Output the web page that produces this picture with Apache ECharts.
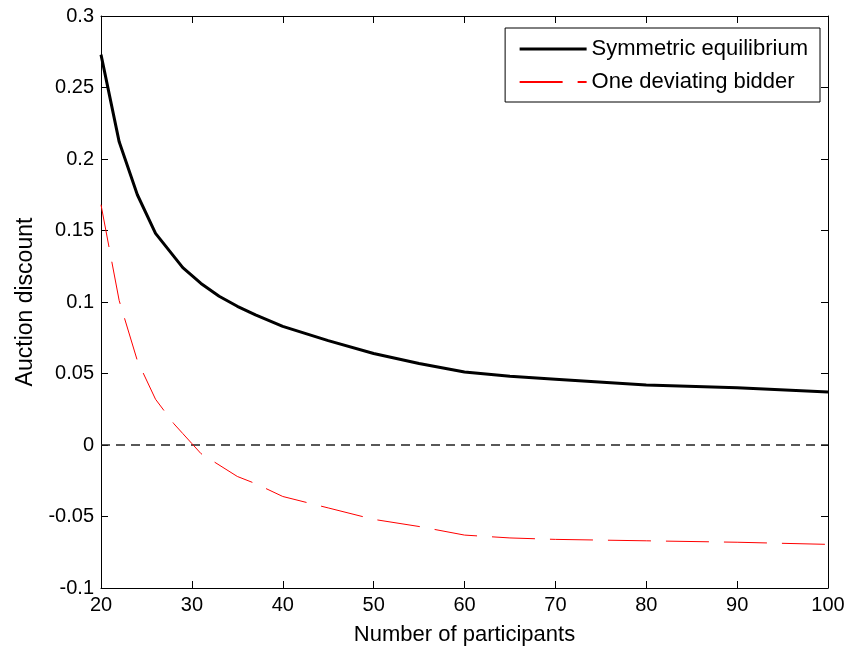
<!DOCTYPE html>
<html><head><meta charset="utf-8">
<script src="https://cdn.jsdelivr.net/npm/echarts@6/dist/echarts.min.js"></script>
<style>html,body{margin:0;padding:0;background:#fff}#c{width:849px;height:648px}</style>
</head><body><div id="c"></div>
<script>
const xSym = [20,22,24,26,29,31,33,35,37,40,45,50,55,60,65,70,80,90,100];
const symmetric = [0.273,0.212,0.175,0.148,0.124,0.113,0.104,0.097,0.091,0.083,0.073,0.064,0.057,0.051,0.048,0.046,0.042,0.040,0.037];
const xDev = [20,22,24,26,28,29,30,31,32,35,37,40,45,50,55,60,65,70,80,90,100];
const deviating = [0.168,0.101,0.059,0.032,0.015,0.008,0.001,-0.006,-0.010,-0.022,-0.027,-0.036,-0.044,-0.052,-0.057,-0.063,-0.065,-0.066,-0.067,-0.068,-0.0695];
const zeroLine = [[20,0],[100,0]];
const FONT = '"Liberation Sans",Arial,sans-serif';
const chart = echarts.init(document.getElementById('c'));
const fmtY = v => String(Math.round(v*1000)/1000);
chart.setOption({
  animation: false,
  backgroundColor: '#fff',
  grid: {left: 101, right: 21, top: 16, bottom: 60, containLabel: false, outerBoundsMode: 'none'},
  legend: {
    right: 29, top: 28, orient: 'vertical',
    data: [
      {name: 'Symmetric equilibrium', lineStyle: {width: 3, color: '#000'}},
      {name: 'One deviating bidder'}
    ],
    backgroundColor: '#fff', borderColor: '#000', borderWidth: 1, borderRadius: 0,
    padding: [10, 12, 9, 13], itemGap: 11, itemWidth: 67, itemHeight: 20,
    itemStyle: {opacity: 0},
    textStyle: {fontFamily: FONT, fontSize: 22, color: '#000'}
  },
  xAxis: [{
    type: 'value', min: 20, max: 100, interval: 10,
    name: 'Number of participants', nameLocation: 'middle', nameGap: 36,
    nameTextStyle: {fontFamily: FONT, fontSize: 22, color: '#000'},
    axisLine: {show: true, onZero: false, lineStyle: {color: '#000', width: 1}},
    axisTick: {show: true, inside: true, length: 7, lineStyle: {color: '#000'}},
    axisLabel: {fontFamily: FONT, fontSize: 20, color: '#000', margin: 7},
    splitLine: {show: false}
  },{
    type: 'value', min: 20, max: 100, interval: 10, position: 'top',
    axisLine: {show: true, onZero: false, lineStyle: {color: '#000', width: 1}},
    axisTick: {show: true, inside: true, length: 7, lineStyle: {color: '#000'}},
    axisLabel: {show: false}, splitLine: {show: false}
  }],
  yAxis: [{
    type: 'value', min: -0.1, max: 0.3, interval: 0.05,
    name: 'Auction discount', nameLocation: 'middle', nameGap: 63, nameRotate: 90,
    nameTextStyle: {fontFamily: FONT, fontSize: 23, color: '#000'},
    axisLine: {show: true, onZero: false, lineStyle: {color: '#000', width: 1}},
    axisTick: {show: true, inside: true, length: 7, lineStyle: {color: '#000'}},
    axisLabel: {fontFamily: FONT, fontSize: 20, color: '#000', margin: 7, formatter: fmtY},
    splitLine: {show: false}
  },{
    type: 'value', min: -0.1, max: 0.3, interval: 0.05, position: 'right',
    axisLine: {show: true, onZero: false, lineStyle: {color: '#000', width: 1}},
    axisTick: {show: true, inside: true, length: 7, lineStyle: {color: '#000'}},
    axisLabel: {show: false}, splitLine: {show: false}
  }],
  series: [{
    name: 'zero', type: 'line', data: zeroLine, symbol: 'none', silent: true,
    lineStyle: {color: '#222', width: 1.4, type: [9, 6]}
  },{
    name: 'Symmetric equilibrium', type: 'line', symbol: 'none',
    data: xSym.map((x,i)=>[x, symmetric[i]]),
    lineStyle: {color: '#000', width: 3}, itemStyle: {color: '#000'}
  },{
    name: 'One deviating bidder', type: 'line', symbol: 'none',
    data: xDev.map((x,i)=>[x, deviating[i]]),
    lineStyle: {color: '#ff0000', width: 1, type: [43, 15]}, itemStyle: {color: '#ff0000'}
  }]
});
</script></body></html>
